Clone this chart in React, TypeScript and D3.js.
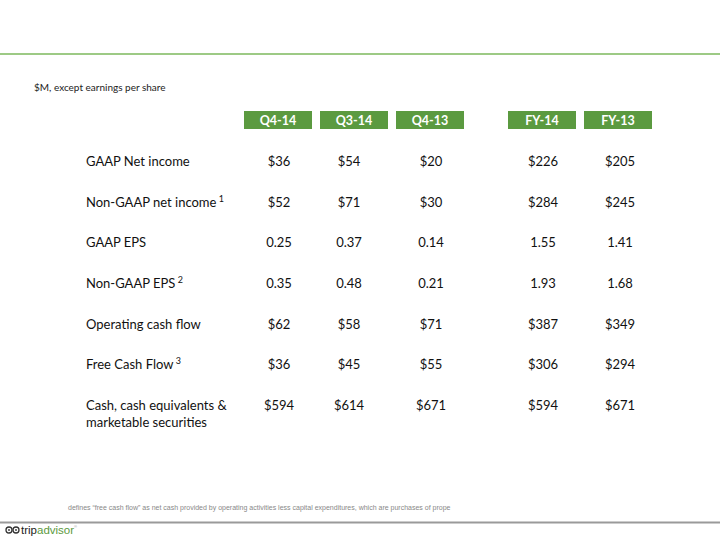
import React from "react";
import * as d3 from "d3";

const columns = ["Q4-14", "Q3-14", "Q4-13", "FY-14", "FY-13"];
const rowLabels = [
  "GAAP Net income",
  "Non-GAAP net income",
  "GAAP EPS",
  "Non-GAAP EPS",
  "Operating cash flow",
  "Free Cash Flow",
  "Cash, cash equivalents &|marketable securities",
];
const rowNotes = ["", "1", "", "2", "", "3", ""];
const rowValues = [
  ["$36", "$54", "$20", "$226", "$205"],
  ["$52", "$71", "$30", "$284", "$245"],
  ["0.25", "0.37", "0.14", "1.55", "1.41"],
  ["0.35", "0.48", "0.21", "1.93", "1.68"],
  ["$62", "$58", "$71", "$387", "$349"],
  ["$36", "$45", "$55", "$306", "$294"],
  ["$594", "$614", "$671", "$594", "$671"],
];
const subtitle = "$M, except earnings per share";
const footnote =
  "defines \u201cfree cash flow\u201d as net cash provided by operating activities less capital expenditures, which are purchases of prope";

const boxLeft = [244, 320, 396, 508, 584];
const boxW = 68;
const valueCenters = [279, 349, 431, 543, 620];

export default function App() {
  const font = "Lato, 'Open Sans', sans-serif";
  const y = d3
    .scalePoint<number>()
    .domain(d3.range(rowLabels.length))
    .range([166, 410]);
  return (
    <svg
      width={720}
      height={540}
      style={{ position: "absolute", left: 0, top: 0 }}
      fontFamily={font}
    >
      <rect width={720} height={540} fill="#fff" />
      <line x1={0} x2={720} y1={54} y2={54} stroke="#7cb95c" strokeWidth={1.5} />
      <text x={34} y={91} fontSize={10} fill="#222">
        {subtitle}
      </text>
      {columns.map((c, i) => (
        <g key={c}>
          <rect x={boxLeft[i]} y={111} width={boxW} height={18} fill="#5b9a40" />
          <text
            x={boxLeft[i] + boxW / 2}
            y={124.5}
            textAnchor="middle"
            fontSize={12.5}
            fontWeight="bold"
            fill="#fff"
          >
            {c}
          </text>
        </g>
      ))}
      {rowLabels.map((lab, r) => {
        const lines = lab.split("|");
        const yy = y(r)!;
        return (
          <g key={r}>
            <text x={86} y={yy} fontSize={13} fill="#111">
              {lines.map((ln, k) => (
                <tspan key={k} x={86} dy={k === 0 ? 0 : 17}>
                  {ln}
                  {k === 0 && rowNotes[r] ? (
                    <tspan fontSize={9} dy={-5}>
                      {"  " + rowNotes[r]}
                    </tspan>
                  ) : null}
                </tspan>
              ))}
            </text>
            {rowValues[r].map((v, i) => (
              <text
                key={i}
                x={valueCenters[i]}
                y={yy}
                textAnchor="middle"
                fontSize={13}
                fill="#111"
              >
                {v}
              </text>
            ))}
          </g>
        );
      })}
      <text
        x={68}
        y={510}
        fontSize={7}
        fill="#888"
        fontFamily="'Liberation Sans', Arial, sans-serif"
      >
        {footnote}
      </text>
      <line x1={0} x2={720} y1={522.5} y2={522.5} stroke="#9a9a9a" strokeWidth={2} />
      <g>
        <circle cx={9} cy={530} r={3} fill="none" stroke="#333" strokeWidth={1.3} />
        <circle cx={16} cy={530} r={3} fill="none" stroke="#333" strokeWidth={1.3} />
        <circle cx={9} cy={530} r={0.9} fill="#333" />
        <circle cx={16} cy={530} r={0.9} fill="#333" />
        <text x={21} y={534} fontSize={11.5} fontFamily="'Liberation Sans', Arial, sans-serif">
          <tspan fill="#222">trip</tspan>
          <tspan fill="#5b9a40">advisor</tspan>
          <tspan fill="#999" fontSize={4} dy={-6}>®</tspan>
        </text>
      </g>
    </svg>
  );
}
